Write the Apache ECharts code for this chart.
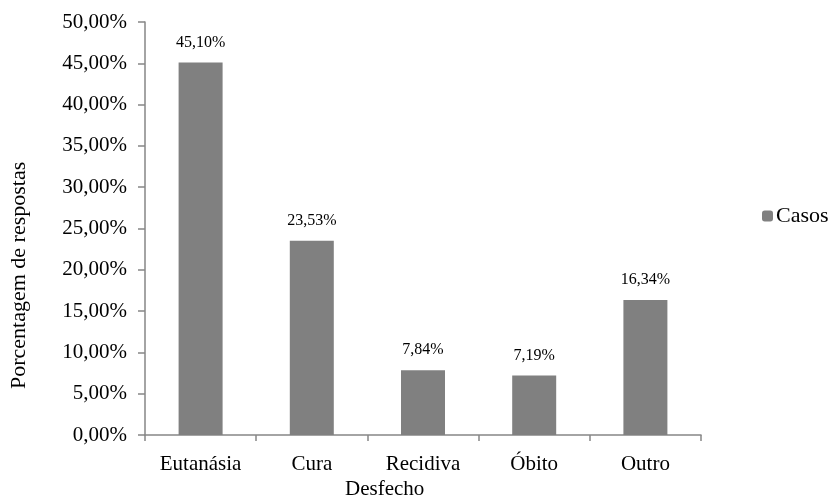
<!DOCTYPE html>
<html>
<head>
<meta charset="utf-8">
<script src="https://cdn.jsdelivr.net/npm/echarts@6/dist/echarts.min.js"></script>
<style>
  html, body { margin: 0; padding: 0; background: #fff; }
  #chart { width: 829px; height: 500px; }
</style>
</head>
<body>
<div id="chart"></div>
<script>
// Outcome categories and share of responses (%)
const categories = ['Eutanásia', 'Cura', 'Recidiva', 'Óbito', 'Outro'];
const casos = [45.10, 23.53, 7.84, 7.19, 16.34];
const seriesName = 'Casos';
const xTitle = 'Desfecho';
const yTitle = 'Porcentagem de respostas';

const serif = "Liberation Serif";
const axisGray = '#868686';
const pct = v => v.toFixed(2).replace('.', ',') + '%';

const chart = echarts.init(document.getElementById('chart'));
chart.setOption({
  animation: false,
  backgroundColor: '#ffffff',
  grid: { left: 145, right: 128, top: 22, bottom: 65 },
  legend: {
    data: [seriesName],
    left: 757, top: 200,
    itemWidth: 11, itemHeight: 11, itemGap: 4,
    textStyle: { fontFamily: serif, fontSize: 22, color: '#000', padding: [0, 0, 0, -2] }
  },
  xAxis: {
    type: 'category',
    data: categories,
    axisLine: { lineStyle: { color: axisGray, width: 1.5 } },
    axisTick: { show: true, alignWithLabel: false, length: 6, lineStyle: { color: axisGray, width: 1.5 } },
    axisLabel: { fontFamily: serif, fontSize: 21, color: '#000', margin: 19 }
  },
  yAxis: {
    type: 'value',
    min: 0, max: 50, interval: 5,
    axisLine: { show: true, lineStyle: { color: axisGray, width: 1.5 } },
    axisTick: { show: true, length: 7, lineStyle: { color: axisGray, width: 1.5 } },
    splitLine: { show: false },
    axisLabel: { fontFamily: serif, fontSize: 21, color: '#000', margin: 18, formatter: pct }
  },
  graphic: [
    {
      type: 'text', left: 345, top: 479,
      style: { text: xTitle, font: '21px "Liberation Serif"', fill: '#000' }
    },
    {
      type: 'text', x: 8, y: 389, rotation: Math.PI / 2,
      style: { text: yTitle, font: '22px "Liberation Serif"', fill: '#000' }
    }
  ],
  series: [{
    name: seriesName,
    type: 'bar',
    data: casos,
    barWidth: 44,
    itemStyle: { color: '#808080' },
    label: {
      show: true, position: 'top', distance: 12,
      fontFamily: serif, fontSize: 16, color: '#000',
      formatter: p => pct(p.value)
    }
  }]
});
</script>
</body>
</html>
